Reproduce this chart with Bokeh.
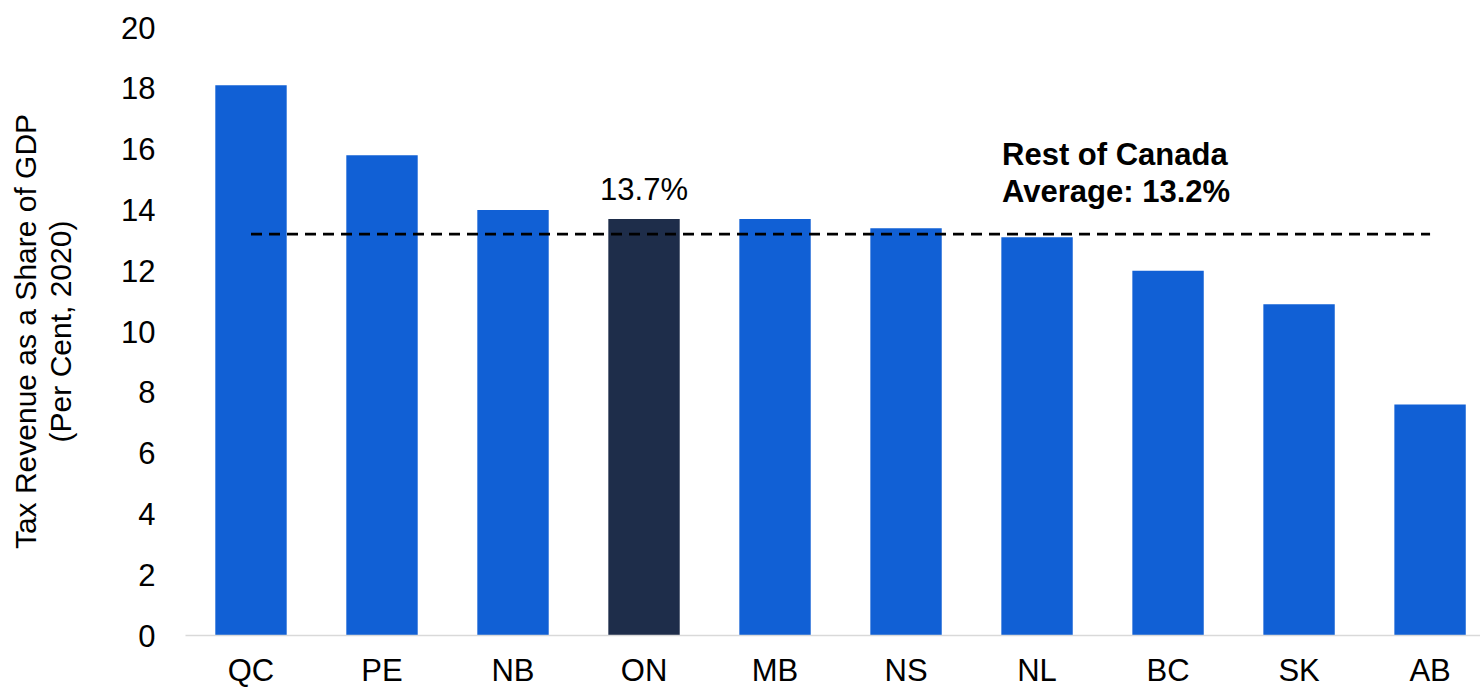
from bokeh.plotting import figure
from bokeh.models import Range1d, FixedTicker, Label, LinearAxis
from bokeh.embed import file_html
from bokeh.resources import INLINE

# ---- data ----
provinces = ["QC", "PE", "NB", "ON", "MB", "NS", "NL", "BC", "SK", "AB"]
tax_share = [18.1, 15.8, 14.0, 13.7, 13.7, 13.4, 13.1, 12.0, 10.9, 7.6]
highlight = "ON"
rest_of_canada_avg = 13.2
y_ticks = [0, 2, 4, 6, 8, 10, 12, 14, 16, 18, 20]
y_title_1 = "Tax Revenue as a Share of GDP"
y_title_2 = "(Per Cent, 2020)"

BLUE = "#1160d5"
NAVY = "#1e2d4a"
FONT = "Liberation Sans"

idx = list(range(len(provinces)))
colors = [NAVY if c == highlight else BLUE for c in provinces]

p = figure(width=1480, height=690, output_backend="svg", toolbar_location=None,
           x_range=Range1d(-0.5, 9.385), y_range=Range1d(0, 20),
           min_border_left=185, min_border_right=0, min_border_top=27,
           min_border_bottom=53)
p.outline_line_color = None
p.grid.grid_line_color = None
p.background_fill_color = "white"
p.border_fill_color = "white"

p.vbar(x=idx, top=tax_share, width=0.545, fill_color=colors, line_color=None)

p.line(x=[idx[0], idx[-1]], y=[rest_of_canada_avg, rest_of_canada_avg],
       line_color="black", line_width=2.7, line_dash="11 7")

# x axis
xa = p.xaxis[0]
xa.ticker = FixedTicker(ticks=idx)
xa.major_label_overrides = {i: c for i, c in zip(idx, provinces)}
xa.axis_line_color = "#d9d9d9"
xa.axis_line_width = 1.5
xa.major_tick_line_color = None
xa.minor_tick_line_color = None
xa.major_tick_out = 0
xa.major_tick_in = 0
xa.major_label_standoff = 17
xa.major_label_text_font = FONT
xa.major_label_text_font_size = "31px"
xa.major_label_text_color = "black"

# y axis (inner: tick labels + second title line)
ya = p.yaxis[0]
ya.ticker = FixedTicker(ticks=y_ticks)
ya.axis_line_color = None
ya.major_tick_line_color = None
ya.minor_tick_line_color = None
ya.major_tick_out = 0
ya.major_tick_in = 0
ya.major_label_standoff = 30
ya.major_label_text_font = FONT
ya.major_label_text_font_size = "31px"
ya.major_label_text_color = "black"
ya.axis_label = y_title_2
ya.axis_label_text_font = FONT
ya.axis_label_text_font_size = "30px"
ya.axis_label_text_font_style = "normal"
ya.axis_label_text_color = "black"
ya.axis_label_standoff = 41

# outer axis: first title line only
ya2 = LinearAxis(ticker=FixedTicker(ticks=[], minor_ticks=[]),
                 axis_line_color=None, major_tick_line_color=None,
                 minor_tick_line_color=None, major_tick_out=0, major_tick_in=0,
                 major_label_standoff=0,
                 axis_label=y_title_1, axis_label_text_font=FONT,
                 axis_label_text_font_size="30px", axis_label_text_font_style="normal",
                 axis_label_text_color="black", axis_label_standoff=0)
p.add_layout(ya2, "left")

# annotations
hi = provinces.index(highlight)
p.add_layout(Label(x=hi, y=tax_share[hi], y_offset=30, text=f"{tax_share[hi]}%",
                   text_align="center", text_baseline="alphabetic",
                   text_font=FONT, text_font_size="31px", text_color="black"))
p.add_layout(Label(x=6, y=rest_of_canada_avg, x_offset=-35, y_offset=80,
                   text="Rest of Canada", text_align="left", text_baseline="alphabetic",
                   text_font=FONT, text_font_size="31px", text_font_style="bold",
                   text_color="black"))
p.add_layout(Label(x=6, y=rest_of_canada_avg, x_offset=-35, y_offset=43,
                   text=f"Average: {rest_of_canada_avg}%", text_align="left",
                   text_baseline="alphabetic",
                   text_font=FONT, text_font_size="31px", text_font_style="bold",
                   text_color="black"))

open("out.html", "w").write(file_html(p, INLINE))
